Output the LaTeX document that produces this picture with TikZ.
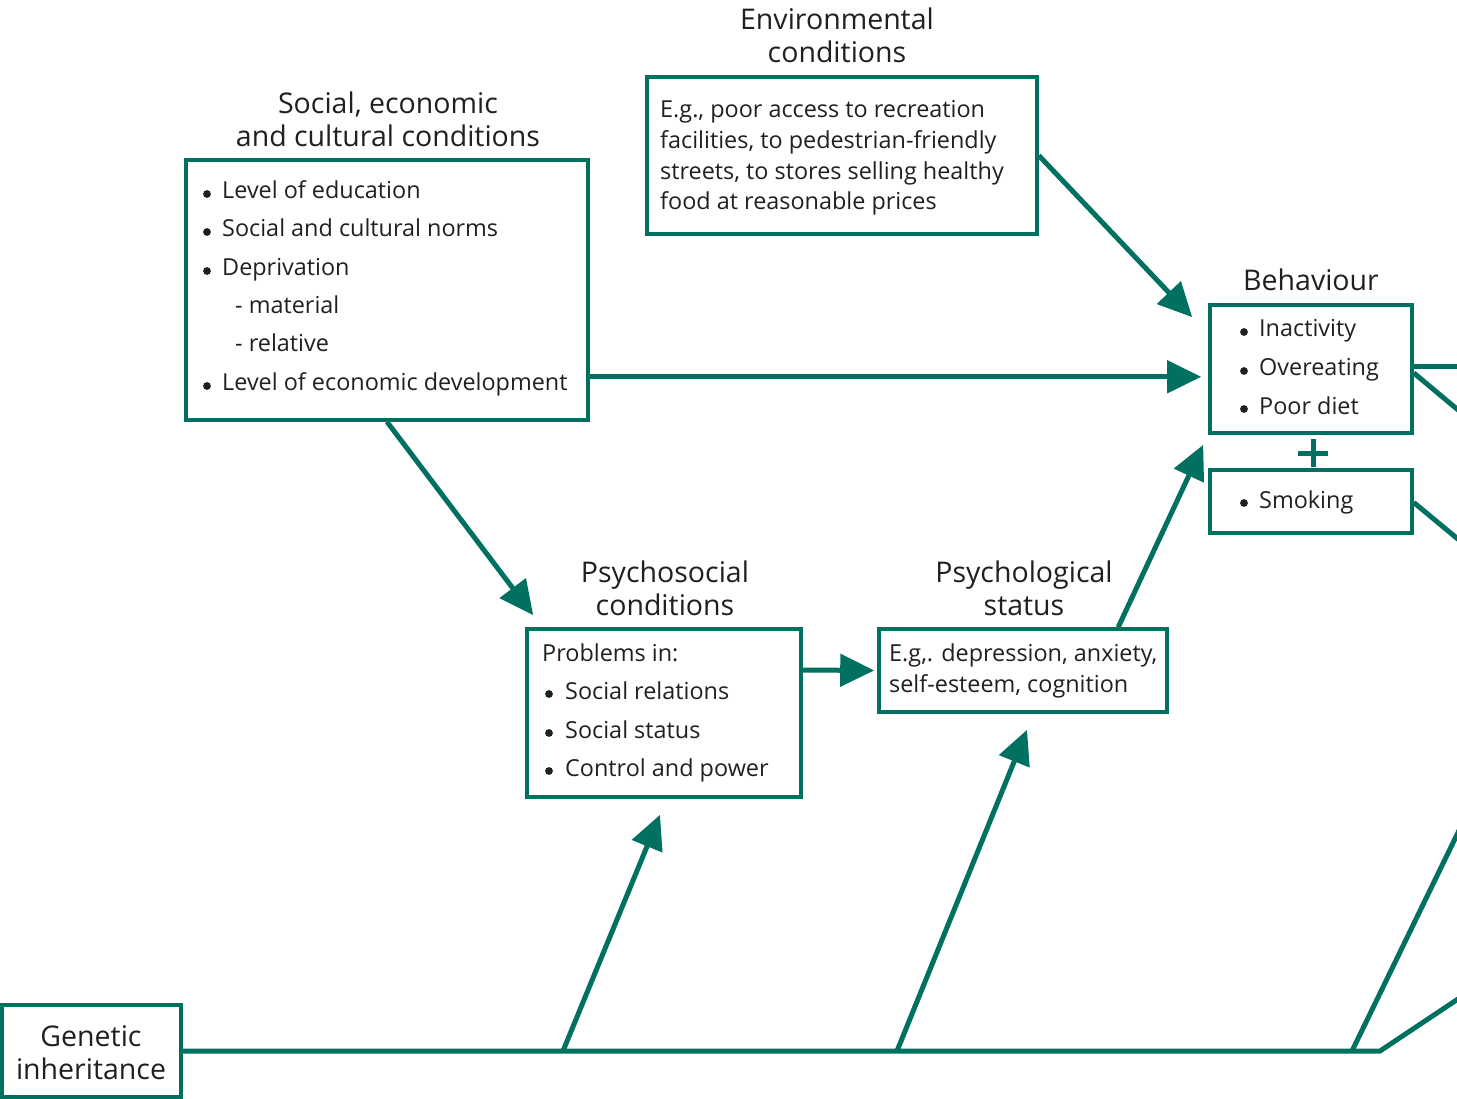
\documentclass[tikz,border=0pt]{standalone}
\usepackage{fontspec}
\setmainfont{Open Sans}
\usetikzlibrary{arrows.meta,calc}
\definecolor{tealc}{RGB}{0,112,96}
\definecolor{ink}{RGB}{35,31,32}
\tikzset{
  box/.style={draw=tealc, line width=3.6pt, inner sep=0pt, fill=white},
  link/.style={draw=tealc, line width=5pt},
  arr/.style={link, -{Triangle[length=34pt,width=32pt]}},
  body/.style={anchor=base west, inner sep=0pt, text=ink, font=\fontsize{23.4}{28}\selectfont},
  head/.style={anchor=base, inner sep=0pt, text=ink, align=center, font=\fontsize{28.5}{33}\selectfont},
  dot/.style={fill=ink, draw=none},
}
% box from corner (x1,y1) to (x2,y2), y measured downwards
\newcommand\boxat[5]{\node[box, minimum width={(#4-#2)*1pt}, minimum height={(#5-#3)*1pt}] (#1) at ({(#2+#4)/2},{(#3+#5)/2}) {};}
% bullet item: name, bullet x, text x, baseline y, text
\newcommand\bitem[5]{\fill[dot] (#2,#4-5) circle (3.9pt); \node[body] (#1) at (#3,#4) {#5};}
\begin{document}
\begin{tikzpicture}[x=1pt,y=-1pt]
\clip (0,0) rectangle (1457,1099);
\fill[white] (0,0) rectangle (1457,1099);

% boxes
\boxat{soc}{186}{160}{588}{420}
\boxat{env}{647}{77}{1037}{234}
\boxat{beh}{1210}{305}{1412}{433}
\boxat{smk}{1210}{470}{1412}{533}
\boxat{psy}{527}{629}{801}{797}
\boxat{pst}{879}{629}{1167}{712}
\boxat{gen}{2}{1005}{181}{1097}

% headings (y is the baseline of the last line)
\node[head] (envh) at (837,63) {Environmental\\conditions};
\node[head] (soch) at (388,147) {Social, economic\\and cultural conditions};
\node[head] (behh) at (1311,291) {Behaviour};
\node[head] (psyh) at (665,615) {Psychosocial\\conditions};
\node[head] (psth) at (1024,615) {Psychological\\status};
\node[head] (genh) at (91,1079) {Genetic\\inheritance};

% social, economic and cultural conditions
\bitem{s1}{207}{222}{199}{Level of education}
\bitem{s2}{207}{222}{237}{Social and cultural norms}
\bitem{s3}{207}{222}{276}{Deprivation}
\node[body] (s4) at (235,314) {- material};
\node[body] (s5) at (235,352) {- relative};
\bitem{s6}{207}{222}{391}{Level of economic development}

% environmental conditions
\node[body] (e1) at (660,118) {E.g., poor access to recreation};
\node[body] (e2) at (660,149) {facilities, to pedestrian-friendly};
\node[body] (e3) at (660,180) {streets, to stores selling healthy};
\node[body] (e4) at (660,210) {food at reasonable prices};

% behaviour
\bitem{b1}{1244}{1259}{337}{Inactivity}
\bitem{b2}{1244}{1259}{376}{Overeating}
\bitem{b3}{1244}{1259}{414}{Poor diet}
\bitem{b4}{1244}{1259}{508}{Smoking}
% plus sign joining the two behaviour boxes
\coordinate (plus) at (1313,453);
\draw[link] ($(plus)+(-15,0)$) -- ($(plus)+(15,0)$);
\draw[link] ($(plus)+(0,-14)$) -- ($(plus)+(0,14)$);

% psychosocial conditions
\node[body] (p0) at (542,661) {Problems in:};
\bitem{p1}{549}{565}{699}{Social relations}
\bitem{p2}{549}{565}{738}{Social status}
\bitem{p3}{549}{565}{776}{Control and power}

% psychological status
\node[body] (q1) at (889,661) {E.g,. depression, anxiety,};
\node[body] (q2) at (889,692) {self-esteem, cognition};

% connectors
\draw[arr] (env.east) -- ($(beh.north west)+(-16,14)$);
\draw[arr] ($(soc.south east)+(0,-45)$) -- ($(beh.south west)+(-7,-58)$);
\draw[arr] (soc.south) -- ($(psy.north west)+(8,-12)$);
\draw[arr] (psy.east |- 0,670) -- ($(pst.west)+(-3,0)$);
\draw[arr] ($(pst.north west)+(241,0)$) -- ($(beh.south west)+(-5,10)$);

% genetic inheritance spine
\coordinate (j1) at (563,1051);
\coordinate (j2) at (897,1051);
\coordinate (j3) at (1352,1051);
\coordinate (j4) at (1380,1051);
\draw[link, line join=miter] (gen.east |- 0,1051) -- (j4) -- (1530,951);
\draw[arr] (j1) -- ($(psy.south)+(-4,16)$);
\draw[arr] (j2) -- ($(pst.south)+(4,16)$);
\draw[link] (j3) -- (1500,746);

% outgoing lines from behaviour and smoking
\draw[link] ($(beh.east)+(0,-2)$) -- (1500,367);
\draw[link] ($(beh.east)+(0,4)$) -- (1500,445);
\draw[link] ($(smk.east)+(0,1)$) -- (1500,574);
\end{tikzpicture}
\end{document}
